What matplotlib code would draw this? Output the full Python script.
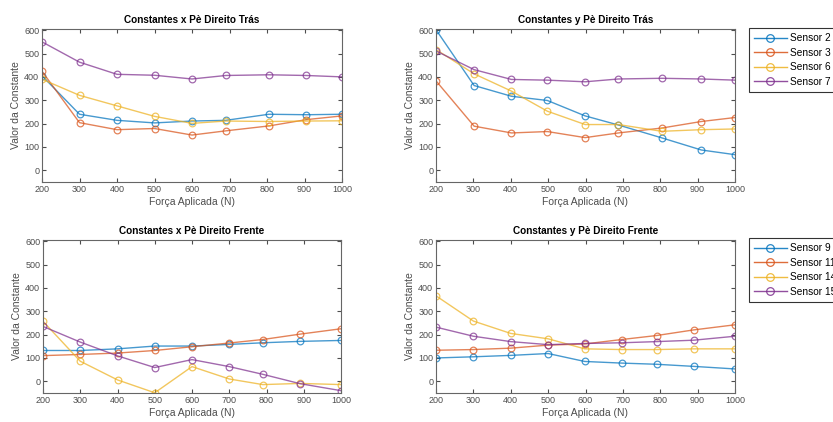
import matplotlib
matplotlib.use("Agg")
import matplotlib.pyplot as plt
from matplotlib.lines import Line2D

# ---- data ----
x_tl = [200, 300, 400, 500, 600, 690, 805, 905, 1000]
tl_s2 = [405, 240, 214, 203, 211, 214, 240, 238, 240]
tl_s3 = [424, 204, 174, 179, 151, 169, 190, 217, 233]
tl_s6 = [390, 321, 276, 231, 201, 211, 209, 211, 212]
tl_s7 = [550, 463, 411, 407, 391, 406, 409, 406, 400]

x_tr = [200, 302, 402, 498, 599, 688, 804, 910, 1000]
tr_s2 = [602, 363, 317, 299, 233, 194, 139, 87, 67]
tr_s3 = [383, 189, 160, 166, 140, 160, 181, 209, 226]
tr_s6 = [517, 413, 339, 253, 196, 196, 167, 174, 177]
tr_s7 = [511, 431, 389, 386, 379, 391, 394, 391, 386]

x_bl = [200, 300, 400, 500, 600, 700, 790, 890, 1000]
bl_s9 = [132, 132, 139, 151, 151, 158, 165, 171, 175]
bl_s11 = [110, 115, 121, 132, 148, 164, 179, 202, 225]
bl_s14 = [257, 86, 6, -49, 63, 10, -14, -9, -14]
bl_s15 = [235, 168, 109, 59, 93, 63, 30, -10, -40]

x_br = [200, 300, 400, 500, 598, 697, 790, 889, 1000]
br_s9 = [100, 105, 111, 119, 85, 78, 73, 64, 53]
br_s11 = [133, 136, 142, 155, 160, 179, 196, 220, 242]
br_s14 = [366, 258, 205, 182, 139, 136, 136, 139, 139]
br_s15 = [232, 193, 170, 157, 162, 165, 170, 176, 193]

titles = ["Constantes x Pè Direito Trás", "Constantes y Pè Direito Trás",
          "Constantes x Pè Direito Frente", "Constantes y Pè Direito Frente"]
legend_top = ["Sensor 2", "Sensor 3", "Sensor 6", "Sensor 7"]
legend_bot = ["Sensor 9", "Sensor 11", "Sensor 14", "Sensor 15"]
xticks = [200, 300, 400, 500, 600, 700, 800, 900, 1000]
yticks = [0, 100, 200, 300, 400, 500, 600]

colors = ["#0072BD", "#D95319", "#EDB120", "#7E2F8E"]
W, H = 833, 422
fig = plt.figure(figsize=(W / 100, H / 100), dpi=100)
plt.rcParams['font.family'] = ['Liberation Sans', 'DejaVu Sans']

gray = "#4d4d4d"

def px_axes(l, t, r, b):
    return fig.add_axes([l / W, 1 - b / H, (r - l) / W, (b - t) / H])

panels = [
    (px_axes(42, 29, 342, 182), x_tl, [tl_s2, tl_s3, tl_s6, tl_s7]),
    (px_axes(436, 29, 735, 182), x_tr, [tr_s2, tr_s3, tr_s6, tr_s7]),
    (px_axes(43, 240, 341, 393), x_bl, [bl_s9, bl_s11, bl_s14, bl_s15]),
    (px_axes(436, 240, 735, 393), x_br, [br_s9, br_s11, br_s14, br_s15]),
]

for i, (ax, xs, series) in enumerate(panels):
    for s, c in zip(series, colors):
        ax.plot(xs, s, color=c, lw=1.0, marker='o', markersize=4.8,
                markerfacecolor='none', markeredgewidth=0.9, alpha=0.72)
    ax.set_xlim(200, 1000)
    ax.set_ylim(-50, 605)
    ax.set_xticks(xticks)
    ax.set_yticks(yticks)
    ax.tick_params(direction='in', length=3, labelsize=6.5, colors=gray,
                   top=True, right=True, pad=2)
    for sp in ax.spines.values():
        sp.set_color("#666666")
        sp.set_linewidth(0.8)
    ax.set_title(titles[i], fontsize=7.2, fontweight='bold', pad=4)
    ax.set_xlabel("Força Aplicada (N)", fontsize=7.5, color=gray, labelpad=2)
    ax.set_ylabel("Valor da Constante", fontsize=7.5, color=gray, labelpad=2)

def make_handles():
    return [Line2D([0], [0], color=c, lw=1.0, marker='o', markersize=5.5,
                   markerfacecolor='none', markeredgewidth=0.9, alpha=0.85)
            for c in colors]

for labels, top in [(legend_top, 28), (legend_bot, 238)]:
    leg = fig.legend(make_handles(), labels, loc='upper left',
                     bbox_to_anchor=(749 / W, 1 - top / H), fontsize=7.3,
                     frameon=True, fancybox=False, edgecolor='black',
                     borderaxespad=0, handlelength=3.2, borderpad=0.5,
                     labelspacing=0.45, handletextpad=0.3)
    leg.get_frame().set_linewidth(0.8)

fig.savefig("out.png", dpi=100)
